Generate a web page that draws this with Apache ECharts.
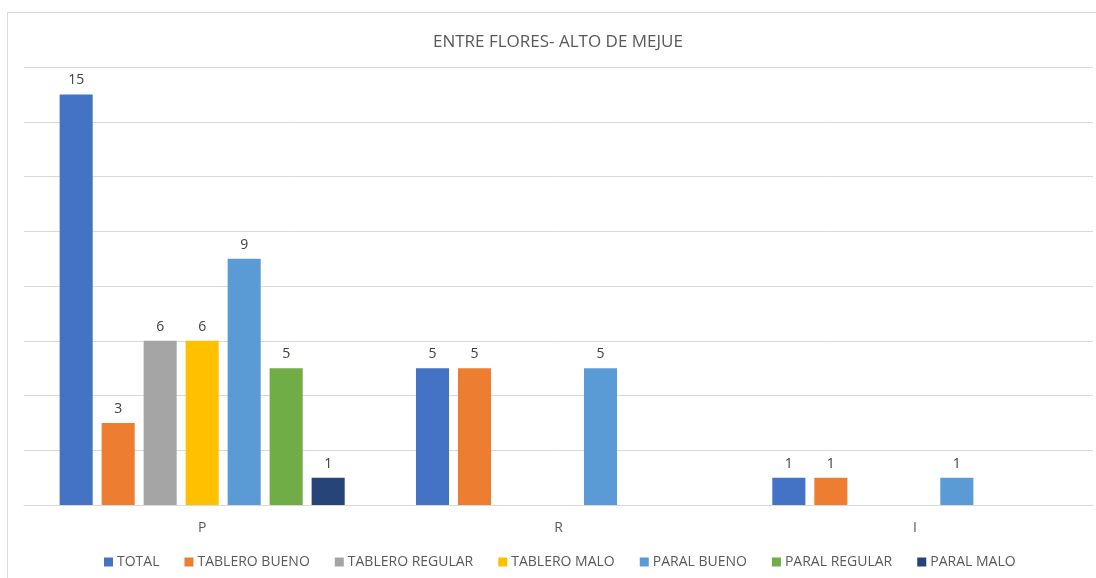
<!DOCTYPE html>
<html>
<head>
<meta charset="utf-8">
<script src="https://cdn.jsdelivr.net/npm/echarts@6/dist/echarts.min.js"></script>
<style>
html,body{margin:0;padding:0;background:#fff;}
#frame{position:absolute;left:7px;top:12px;width:1100px;height:580px;border:1px solid #d9d9d9;box-sizing:border-box;}
#chart{position:absolute;left:0;top:0;width:1096px;height:578px;}
</style>
</head>
<body>
<div id="frame"></div>
<div id="chart"></div>
<script>
const categories = ['P', 'R', 'I'];
const seriesNames = ['TOTAL', 'TABLERO BUENO', 'TABLERO REGULAR', 'TABLERO MALO', 'PARAL BUENO', 'PARAL REGULAR', 'PARAL MALO'];
const total = [15, 5, 1];
const tableroBueno = [3, 5, 1];
const tableroRegular = [6, null, null];
const tableroMalo = [6, null, null];
const paralBueno = [9, 5, 1];
const paralRegular = [5, null, null];
const paralMalo = [1, null, null];
const colors = ['#4472C4', '#ED7D31', '#A5A5A5', '#FFC000', '#5B9BD5', '#70AD47', '#264478'];

const values = [total, tableroBueno, tableroRegular, tableroMalo, paralBueno, paralRegular, paralMalo];
const font = 'Open Sans, Noto Sans, sans-serif';

const chart = echarts.init(document.getElementById('chart'), null, {renderer: 'canvas'});
chart.setOption({
  animation: false,
  color: colors,
  title: {
    text: 'ENTRE FLORES- ALTO DE MEJUE',
    left: 428,
    top: 29,
    textStyle: {fontFamily: font, fontSize: 17, fontWeight: 'normal', color: '#595959'}
  },
  legend: {
    bottom: 4,
    left: 99,
    itemWidth: 9,
    itemHeight: 9,
    itemGap: 25,
    icon: 'rect',
    textStyle: {fontFamily: font, fontSize: 14, color: '#595959', padding: [0, 0, 0, -1]},
    data: seriesNames
  },
  grid: {left: 24, right: 3, top: 67, bottom: 73},
  xAxis: {
    type: 'category',
    data: categories,
    axisTick: {show: false},
    axisLine: {lineStyle: {color: '#d9d9d9'}},
    axisLabel: {fontFamily: font, fontSize: 14, color: '#595959', margin: 16}
  },
  yAxis: {
    type: 'value',
    min: 0,
    max: 16,
    interval: 2,
    axisLabel: {show: false},
    axisLine: {show: false},
    axisTick: {show: false},
    splitLine: {lineStyle: {color: '#d9d9d9'}}
  },
  series: seriesNames.map((name, i) => ({
    name: name,
    type: 'bar',
    data: values[i],
    barCategoryGap: '20%',
    barGap: '27%',
    label: {show: true, position: 'top', distance: 7, fontFamily: font, fontSize: 14, color: '#404040'}
  }))
});
</script>
</body>
</html>
